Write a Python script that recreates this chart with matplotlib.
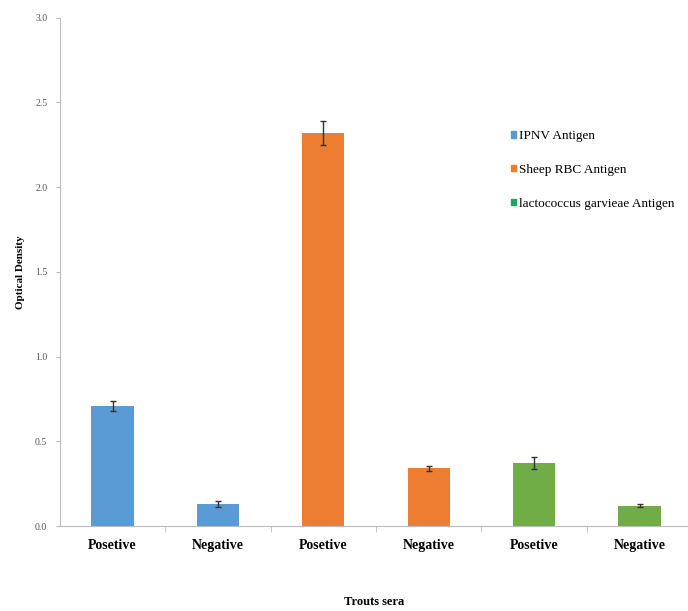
import matplotlib.pyplot as plt
import numpy as np

plt.rcParams['font.family'] = ['Liberation Serif', 'DejaVu Serif']

categories = ['Posetive', 'Negative', 'Posetive', 'Negative', 'Posetive', 'Negative']
od_values = [0.71, 0.13, 2.32, 0.34, 0.37, 0.12]
od_errors = [0.03, 0.02, 0.07, 0.015, 0.035, 0.01]
antigens = ['IPNV Antigen', 'Sheep RBC Antigen', 'lactococcus garvieae Antigen']
bar_antigen = [0, 0, 1, 1, 2, 2]

colors = ['#5b9bd5', '#ed7d31', '#70ad47']
legend_colors = ['#5b9bd5', '#ed7d31', '#1fa45f']

fig = plt.figure(figsize=(6.88, 6.11), dpi=100)
ax = fig.add_axes([0.087, 0.139, 0.913, 0.832])

positions = np.arange(len(categories))
bar_colors = [colors[i] for i in bar_antigen]
ax.bar(positions, od_values, 0.4, color=bar_colors, yerr=od_errors,
       error_kw=dict(ecolor='#333333', elinewidth=1, capsize=2.5, capthick=1))

ax.set_xlim(-0.5, 5.46)
ax.set_ylim(0, 3.0)
ax.set_yticks(np.arange(0, 3.01, 0.5))
ax.set_yticklabels([f'{v:.1f}' for v in np.arange(0, 3.01, 0.5)])
ax.set_xticks(positions)
ax.set_xticklabels(categories, fontsize=10, fontweight='bold')
ax.set_xticks(positions[:-1] + 0.5, minor=True)
ax.tick_params(axis='x', which='major', length=0, pad=9)
ax.tick_params(axis='x', which='minor', length=4, color='#bbbbbb')
ax.tick_params(axis='y', length=3, color='#bbbbbb', labelsize=7, labelcolor='#555555', pad=6)

for side in ['top', 'right']:
    ax.spines[side].set_visible(False)
for side in ['left', 'bottom']:
    ax.spines[side].set_color('#bbbbbb')

ax.set_ylabel('Optical Density', fontsize=8, fontweight='bold', labelpad=7.5)
ax.set_xlabel('Trouts sera', fontsize=9, fontweight='bold', labelpad=32)

handles = [plt.Rectangle((0, 0), 1, 1, color=c) for c in legend_colors]
ax.legend(handles, antigens, loc='upper left', bbox_to_anchor=(0.718, 0.779),
          borderaxespad=0, borderpad=0, frameon=False, fontsize=9.5,
          handlelength=0.4, handleheight=0.4, handletextpad=0.2, labelspacing=1.65)

fig.savefig('out.png', dpi=100)
